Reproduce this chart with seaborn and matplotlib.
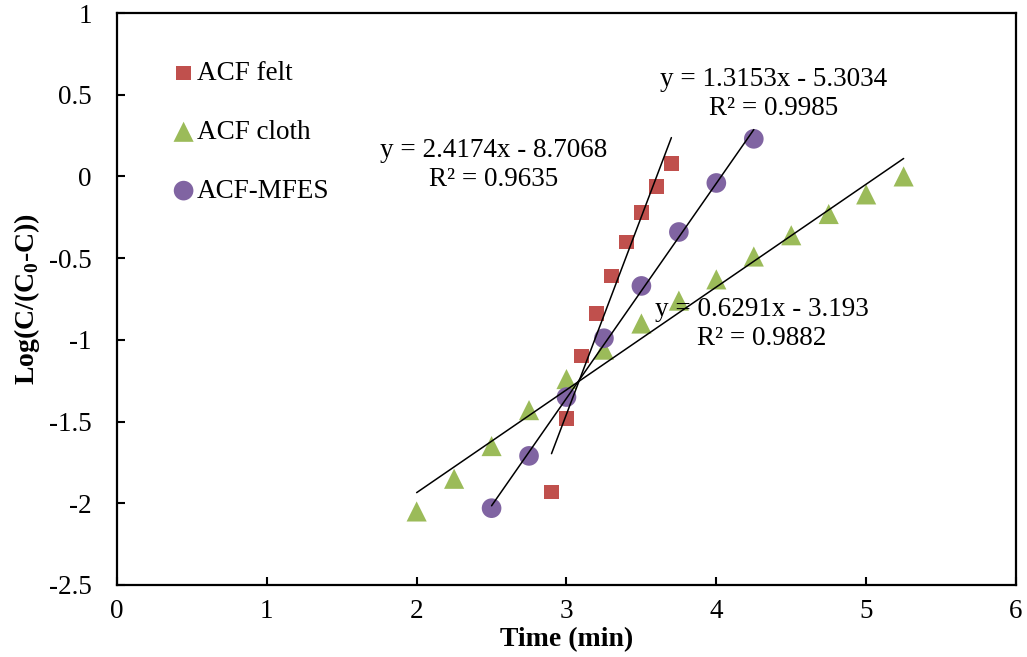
import numpy as np
import pandas as pd
import matplotlib
matplotlib.use("Agg")
import matplotlib.pyplot as plt
import seaborn as sns

# ---- data ----
felt_x = [2.9, 3.0, 3.1, 3.2, 3.3, 3.4, 3.5, 3.6, 3.7]
felt_y = [-1.93, -1.48, -1.10, -0.84, -0.61, -0.40, -0.22, -0.06, 0.08]

cloth_x = [2.0, 2.25, 2.5, 2.75, 3.0, 3.25, 3.5, 3.75, 4.0, 4.25, 4.5, 4.75, 5.0, 5.25]
cloth_y = [-2.05, -1.85, -1.65, -1.43, -1.24, -1.06, -0.90, -0.76, -0.63, -0.49, -0.36, -0.23, -0.11, 0.00]

mfes_x = [2.5, 2.75, 3.0, 3.25, 3.5, 3.75, 4.0, 4.25]
mfes_y = [-2.03, -1.71, -1.35, -0.99, -0.67, -0.34, -0.04, 0.23]

series_names = ["ACF felt", "ACF cloth", "ACF-MFES"]
slopes = [2.4174, 0.6291, 1.3153]
intercepts = [-8.7068, -3.193, -5.3034]
eq_labels = ["y = 2.4174x - 8.7068\nR² = 0.9635",
             "y = 0.6291x - 3.193\nR² = 0.9882",
             "y = 1.3153x - 5.3034\nR² = 0.9985"]
eq_pos = [(2.517, 0.07), (4.306, -0.903), (4.38, 0.504)]

x_ticks = [0, 1, 2, 3, 4, 5, 6]
y_ticks = [-2.5, -2, -1.5, -1, -0.5, 0, 0.5, 1]
x_ticklabels = ["0", "1", "2", "3", "4", "5", "6"]
y_ticklabels = ["-2.5", "-2", "-1.5", "-1", "-0.5", "0", "0.5", "1"]

# ---- style ----
sns.set_style("ticks")
plt.rcParams['font.family'] = ['Liberation Serif', 'DejaVu Serif']
plt.rcParams['mathtext.fontset'] = 'custom'
plt.rcParams['mathtext.rm'] = 'Liberation Serif'
plt.rcParams['mathtext.bf'] = 'Liberation Serif:bold'

colors = ["#C0504D", "#9BBB59", "#8064A2"]
markers = ["s", "^", "o"]
sizes = [110, 210, 200]

df = pd.concat([
    pd.DataFrame({"x": felt_x, "y": felt_y, "series": series_names[0]}),
    pd.DataFrame({"x": cloth_x, "y": cloth_y, "series": series_names[1]}),
    pd.DataFrame({"x": mfes_x, "y": mfes_y, "series": series_names[2]}),
], ignore_index=True)

fig = plt.figure(figsize=(10.27, 6.57), dpi=100)
ax = fig.add_axes([0.1139, 0.1096, 0.8754, 0.8706])

xs_list = [felt_x, cloth_x, mfes_x]
for i, name in enumerate(series_names):
    sub = df[df["series"] == name]
    sns.scatterplot(data=sub, x="x", y="y", ax=ax, color=colors[i], marker=markers[i],
                    s=sizes[i], edgecolor="none", label=name, zorder=3)

for i in range(3):
    xx = np.array([min(xs_list[i]), max(xs_list[i])])
    ax.plot(xx, slopes[i] * xx + intercepts[i], color="black", lw=1.1, zorder=4)
    ax.text(eq_pos[i][0], eq_pos[i][1], eq_labels[i], ha="center", va="center",
            fontsize=19.5, linespacing=1.2, color="black", zorder=5)

ax.set_xlim(0, 6)
ax.set_ylim(-2.5, 1)
ax.set_xticks(x_ticks)
ax.set_xticklabels(x_ticklabels)
ax.set_yticks(y_ticks)
ax.set_yticklabels(y_ticklabels)
ax.tick_params(direction="in", length=6, width=1.5, labelsize=19.5, colors="black")
ax.tick_params(axis="y", pad=18)
ax.tick_params(axis="x", pad=10)
for sp in ax.spines.values():
    sp.set_visible(True)
    sp.set_linewidth(1.6)
    sp.set_color("black")

ax.set_xlabel("Time (min)", fontsize=20, fontweight="bold", color="black")
ax.set_ylabel(r"Log(C/(C$_\mathbf{0}$-C))", fontsize=20, fontweight="bold", color="black")
ax.xaxis.set_label_coords(0.5, -0.074)
ax.yaxis.set_label_coords(-0.083, 0.5)

leg = ax.legend(loc="upper left", bbox_to_anchor=(0.05, 0.935), frameon=False,
                fontsize=19.5, labelspacing=1.25, handlelength=0.8, handletextpad=0.1,
                markerscale=1.0, borderaxespad=0)
for t in leg.get_texts():
    t.set_color("black")

fig.savefig("out.png", dpi=100)
